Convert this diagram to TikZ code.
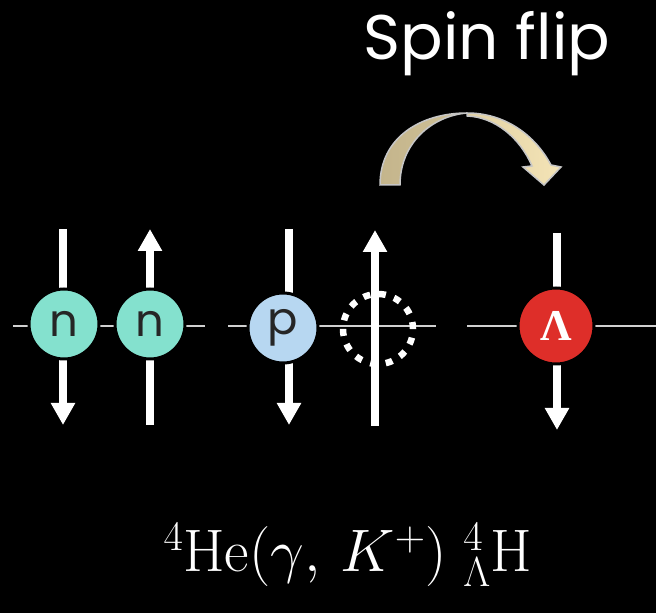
\RequirePackage{fix-cm}
\documentclass[tikz,border=0pt]{standalone}
\usepackage{fontspec}
\newfontfamily\gothic{Poppins}
\newfontfamily\greekserif{Liberation Serif}
\usepackage{tikz}
\usetikzlibrary{arrows.meta, positioning}

\definecolor{ncol}{HTML}{84E1CE}
\definecolor{pcol}{HTML}{B7D7F1}
\definecolor{lcol}{HTML}{DE2E29}
\definecolor{tandark}{HTML}{C4B58C}
\definecolor{tanlight}{HTML}{F4E4B6}
\definecolor{axiscol}{HTML}{D0D0D0}

\begin{document}
\begin{tikzpicture}[x=1pt, y=1pt,
  axisline/.style={axiscol, line width=2pt},
  spin/.style={white, line width=8pt, -{Triangle[width=23pt,length=22pt]}},
  baryon/.style={circle, draw=black, line width=3pt, minimum size=70pt, inner sep=0pt,
    font=\gothic\fontsize{45}{45}\selectfont, text=black!85},
  hole/.style={circle, draw=white, line width=6.5pt, dash pattern=on 7pt off 8.7pt, minimum size=70pt},
  flipband/.style={draw=gray!45, line width=1.5pt}]
\fill[black] (0,0) rectangle (656,613);
\useasboundingbox (0,0) rectangle (656,613);

% axis through the particles
\coordinate (a1) at (13,287);
\coordinate (a2) at (205,287);
\coordinate (a3) at (228,287);
\coordinate (a4) at (436,287);
\coordinate (a5) at (467,287);
\coordinate (a6) at (656,287);
\draw[axisline] (a1) -- (a2);
\draw[axisline] (a3) -- (a4);
\draw[axisline] (a5) -- (a6);

% spins
\coordinate (n1top) at (63,384);
\coordinate (n1bot) at (63,188);
\coordinate (n2top) at (150,384);
\coordinate (n2bot) at (150,188);
\coordinate (ptop) at (289,384);
\coordinate (pbot) at (289,188);
\coordinate (htop) at (375,383);
\coordinate (hbot) at (375,187);
\coordinate (ltop) at (557,380);
\coordinate (lbot) at (557,183);
\draw[spin] (n1top) -- (n1bot);
\draw[spin] (n2bot) -- (n2top);
\draw[spin] (ptop) -- (pbot);
\draw[spin] (hbot) -- (htop);
\draw[spin] (ltop) -- (lbot);

% particles
\node[baryon, fill=ncol] (n1) at (64,289) {n};
\node[baryon, fill=ncol] (n2) at (150,289) {n};
\node[baryon, fill=pcol] (p) at (283,285) {p};
\node[hole] (h) at (378,284) {};
\node[baryon, fill=lcol, minimum size=76pt, text=white,
  font=\greekserif\bfseries\fontsize{44}{44}\selectfont] (lam) at (556,287) {Λ};

% curved arrow
\draw[flipband, left color=tandark, right color=tandark!75!tanlight]
  (380,428) .. controls (380,475) and (420,500) .. (467,500)
  .. controls (432,497) and (400,470) .. (400,428) -- cycle;
\draw[flipband, left color=tandark!40!tanlight, right color=tanlight]
  (467,500) .. controls (505,500) and (535,478) .. (551,448)
  -- (561,446) -- (544,428) -- (523,446) -- (532,447)
  .. controls (520,475) and (495,496) .. (467,497) -- cycle;

% labels
\node[anchor=base, white, font=\gothic\fontsize{63}{63}\selectfont] (title) at (487,553) {Spin flip};
\node[anchor=base, white, font=\fontsize{60}{60}\selectfont] (reac) at (348,41)
  {$^4\mathrm{He}(\gamma,\,K^+)\;{}^4_\Lambda\mathrm{H}$};
\end{tikzpicture}
\end{document}
